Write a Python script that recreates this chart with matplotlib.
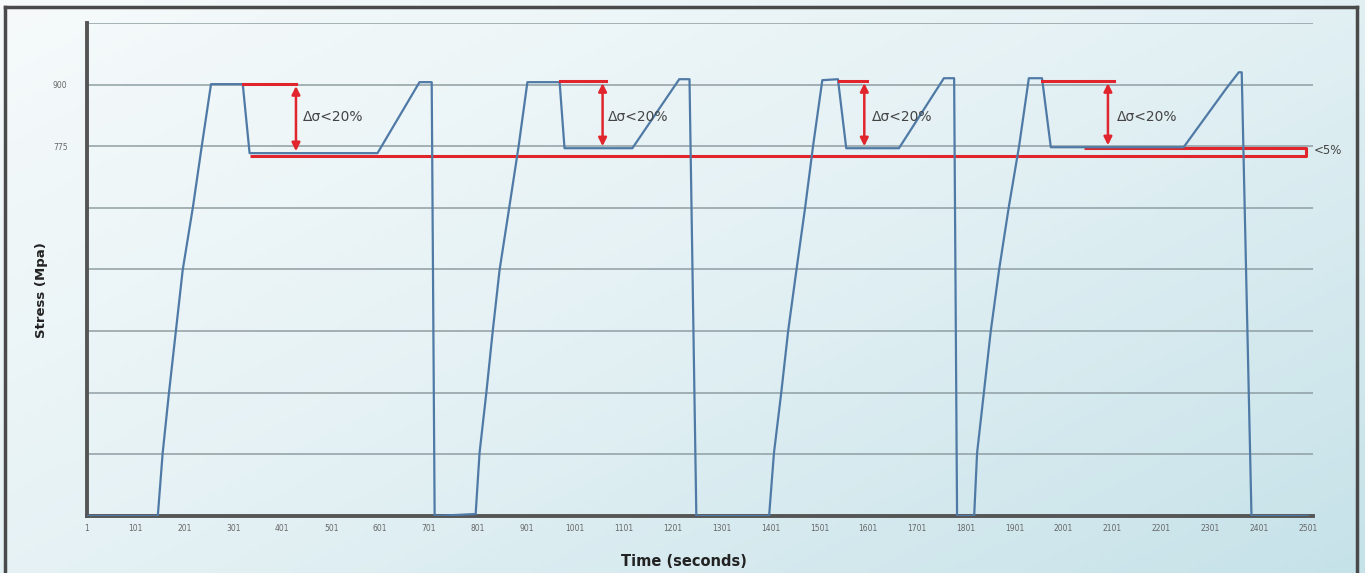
import numpy as np
import matplotlib
matplotlib.use("Agg")
import matplotlib.pyplot as plt
from matplotlib.colors import LinearSegmentedColormap
from matplotlib.lines import Line2D

# stress trace (time in s, stress in MPa)
time_s = [1, 146, 156, 169, 183, 197, 218, 236, 255, 320, 334, 596, 682, 699, 707, 713,
          797, 805, 819, 832, 846, 866, 885, 903, 969, 979, 1118, 1214, 1231, 1235, 1249,
          1398, 1408, 1423, 1437, 1454, 1472, 1488, 1507, 1539, 1556, 1664, 1756, 1771, 1777, 1783,
          1818, 1824, 1838, 1852, 1869, 1889, 1910, 1930, 1957, 1975, 2247, 2335, 2360, 2366, 2386,
          2501]
stress = [25, 25, 153, 276, 400, 524, 652, 775, 901, 901, 761, 761, 905, 905, 905, 25,
          29, 153, 276, 400, 524, 652, 775, 905, 905, 771, 771, 911, 911, 911, 25,
          25, 153, 276, 400, 524, 652, 775, 909, 911, 771, 771, 913, 913, 913, 25,
          25, 153, 276, 400, 524, 652, 775, 913, 913, 773, 773, 893, 925, 925, 25,
          25]

# red annotations: relaxation limit per cycle
top_x0 = [320, 969, 1541, 1957]
top_x1 = [429, 1065, 1599, 2104]
top_v = [901, 907, 907, 907]
arrow_x = [429, 1057, 1593, 2092]
arrow_low = [761, 771, 771, 773]
label_x = [443, 1067, 1609, 2110]
label_v = 834
band_lo = 755
band_hi = 771
band_x0 = 334
band_box_x0 = 2043
band_x1 = 2498

yticks = [25, 150, 275, 400, 525, 650, 775, 900, 1025]
ytick_labels = ["", "", "", "", "", "", "775", "900", ""]
xticks = list(range(1, 2502, 100))

RED = "#e0262c"
BLUE = "#4f7aa6"

fig = plt.figure(figsize=(13.65, 5.73), dpi=100)

# light blue background gradient
bg = fig.add_axes([0, 0, 1, 1], zorder=-5)
gx, gy = np.meshgrid(np.linspace(0, 1, 300), np.linspace(0, 1, 120))
grad = 0.55 * gx + 0.45 * gy
cmap = LinearSegmentedColormap.from_list("bg", ["#f6fafb", "#e4f1f4", "#c6e2e9"])
bg.imshow(grad, cmap=cmap, aspect="auto", extent=[0, 1, 0, 1], origin="upper")
bg.set_axis_off()

# outer frame
fig.add_artist(Line2D([5 / 1365, 5 / 1365], [0, 1 - 7 / 573], transform=fig.transFigure,
                      color="#4a4a4a", lw=2.5))
fig.add_artist(Line2D([5 / 1365, 1357 / 1365], [1 - 7 / 573, 1 - 7 / 573], transform=fig.transFigure,
                      color="#4a4a4a", lw=2.5))
fig.add_artist(Line2D([1357 / 1365, 1357 / 1365], [0, 1 - 7 / 573], transform=fig.transFigure,
                      color="#4a4a4a", lw=2.5))

ax = fig.add_axes([87 / 1365, 1 - 516 / 573, 1226 / 1365, 493 / 573])
ax.set_facecolor("none")
ax.set_xlim(1, 2512)
ax.set_ylim(25, 1025)

for sp in ["top", "right"]:
    ax.spines[sp].set_visible(False)
for sp in ["left", "bottom"]:
    ax.spines[sp].set_color("#555555")
    ax.spines[sp].set_linewidth(2.8)

ax.set_yticks(yticks)
ax.set_yticklabels(ytick_labels)
ax.set_xticks(xticks)
ax.set_xticklabels([str(t) for t in xticks])
ax.tick_params(axis="both", length=0, labelsize=5.5, labelcolor="#666666")
ax.tick_params(axis="x", pad=6)
ax.tick_params(axis="y", pad=14)
ax.yaxis.grid(True, color="#8f9ea3", lw=1.1)
ax.set_axisbelow(True)

# red band for the <5% drift
ax.plot([band_x0, band_x1, band_x1, band_box_x0], [band_lo, band_lo, band_hi, band_hi],
        color=RED, lw=2.2, solid_capstyle="butt", zorder=3)

ax.plot(time_s, stress, color=BLUE, lw=1.6, zorder=4)

for x0, x1, v, xa, lo, xl in zip(top_x0, top_x1, top_v, arrow_x, arrow_low, label_x):
    ax.plot([x0, x1], [v, v], color=RED, lw=2.2, zorder=5)
    ax.annotate("", xy=(xa, v - 4), xytext=(xa, lo + 4),
                arrowprops=dict(arrowstyle="<|-|>", color=RED, lw=1.8,
                                mutation_scale=12, shrinkA=0, shrinkB=0), zorder=5)
    ax.text(xl, label_v, "Δσ<20%", fontsize=10, color="#444444", ha="left", va="center", zorder=6)

ax.text(2513, 767, "<5%", fontsize=8.5, color="#444444", ha="left", va="center", clip_on=False)

fig.text(684 / 1365, 1 - 561 / 573, "Time (seconds)", fontsize=10.5, fontweight="bold",
         color="#222222", ha="center", va="center")
fig.text(41 / 1365, 1 - 290 / 573, "Stress (Mpa)", fontsize=9.5, fontweight="bold",
         color="#222222", ha="center", va="center", rotation=90)

fig.savefig("out.png", dpi=100)
